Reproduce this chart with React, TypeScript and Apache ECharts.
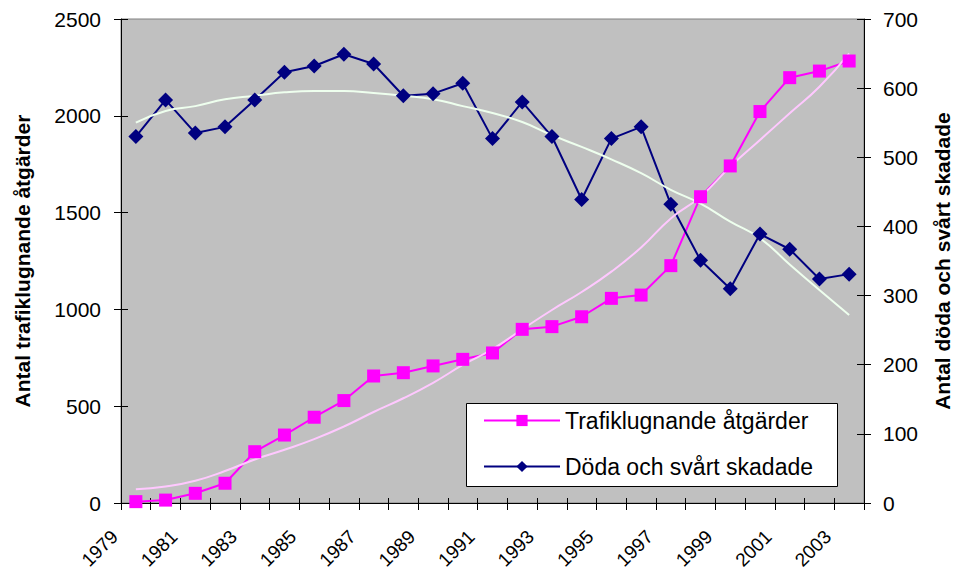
import React, { useEffect, useRef } from "react";
import * as echarts from "echarts";

// Categories (one per data point)
const years = [
  "1979", "1980", "1981", "1982", "1983", "1984", "1985", "1986", "1987", "1988",
  "1989", "1990", "1991", "1992", "1993", "1994", "1995", "1996", "1997", "1998",
  "1999", "2000", "2001", "2002", "2003",
];
// Tick labels placed on the tick marks (every other one shown)
const tickLabels = [
  "1979", "1980", "1981", "1982", "1983", "1984", "1985", "1986", "1987", "1988",
  "1989", "1990", "1991", "1992", "1993", "1994", "1995", "1996", "1997", "1998",
  "1999", "2000", "2001", "2002", "2003", "2004",
];

const atgarder = [
  7, 15, 50, 102, 265, 351, 443, 529, 656, 673, 708, 742, 775,
  897, 911, 962, 1057, 1074, 1226, 1582, 1741, 2022, 2197, 2231, 2283,
];
const doda = [
  530, 583, 535, 544, 583, 623, 632, 649, 635, 589, 592, 607, 527,
  580, 530, 439, 527, 544, 432, 351, 310, 389, 367, 324, 331,
];
const atgarderTrend = [
  71, 85, 115, 165, 225, 275, 330, 395, 470, 541, 621, 713, 795,
  897, 997, 1090, 1195, 1320, 1470, 1582, 1737, 1875, 2013, 2150, 2323,
];
const dodaTrend = [
  550, 567, 574, 584, 589, 594, 596, 596, 593, 589, 584, 574, 564,
  551, 532, 515, 497, 477, 453, 433, 407, 383, 345, 308, 272,
];

const FONT = 'Arial, "Liberation Sans", sans-serif';

export default function App() {
  const ref = useRef<HTMLDivElement>(null);
  useEffect(() => {
    if (!ref.current) return;
    const chart = echarts.init(ref.current, undefined, { renderer: "svg" });
    const axisLineStyle = { color: "#000", width: 1 };
    const plain = (v: number) => String(v);
    chart.setOption({
      animation: false,
      backgroundColor: "#fff",
      textStyle: { fontFamily: FONT },
      grid: {
        left: 121,
        right: 92,
        top: 19,
        bottom: 67,
        show: true,
        backgroundColor: "#C0C0C0",
        borderColor: "#808080",
        borderWidth: 1,
        containLabel: false,
        outerBoundsMode: "none",
      },
      xAxis: [
        {
          type: "category",
          data: years,
          boundaryGap: true,
          position: "bottom",
          axisLine: { show: true, lineStyle: axisLineStyle },
          axisTick: { show: true, interval: 0, length: 7, inside: false, lineStyle: axisLineStyle },
          axisLabel: { show: false },
          splitLine: { show: false },
        },
        {
          type: "category",
          data: tickLabels,
          boundaryGap: false,
          position: "bottom",
          axisLine: { show: false },
          axisTick: { show: true, interval: 0, length: 5, inside: true, lineStyle: axisLineStyle },
          axisLabel: {
            show: true,
            interval: 1,
            rotate: 45,
            margin: 24,
            fontSize: 19,
            color: "#000",
            fontFamily: FONT,
            padding: [0, 9, 0, 0],
          },
          splitLine: { show: false },
        },
      ],
      yAxis: [
        {
          type: "value",
          min: 0,
          max: 2500,
          interval: 500,
          position: "left",
          name: "Antal trafiklugnande åtgärder",
          nameLocation: "middle",
          nameGap: 88,
          nameTextStyle: { fontSize: 21, fontWeight: "bold", color: "#000", fontFamily: FONT },
          axisLine: { show: true, lineStyle: axisLineStyle },
          axisTick: { show: true, length: 7, lineStyle: axisLineStyle },
          axisLabel: { fontSize: 21, color: "#000", margin: 20, fontFamily: FONT, formatter: plain },
          splitLine: { show: false },
        },
        {
          type: "value",
          min: 0,
          max: 700,
          interval: 100,
          position: "right",
          name: "Antal döda och svårt skadade",
          nameLocation: "middle",
          nameGap: 68,
          nameTextStyle: { fontSize: 21, fontWeight: "bold", color: "#000", fontFamily: FONT },
          axisLine: { show: true, lineStyle: axisLineStyle },
          axisTick: { show: true, length: 7, lineStyle: axisLineStyle },
          axisLabel: { fontSize: 21, color: "#000", margin: 19, fontFamily: FONT, formatter: plain },
          splitLine: { show: false },
        },
        {
          type: "value",
          min: 0,
          max: 2500,
          interval: 500,
          position: "left",
          axisLine: { show: false },
          axisTick: { show: true, inside: true, length: 7, lineStyle: axisLineStyle },
          axisLabel: { show: false },
          splitLine: { show: false },
        },
        {
          type: "value",
          min: 0,
          max: 700,
          interval: 100,
          position: "right",
          axisLine: { show: false },
          axisTick: { show: true, inside: true, length: 7, lineStyle: axisLineStyle },
          axisLabel: { show: false },
          splitLine: { show: false },
        },
      ],
      legend: {
        data: ["Trafiklugnande åtgärder", "Döda och svårt skadade"],
        orient: "vertical",
        left: 483,
        top: 409,
        padding: 0,
        itemGap: 23,
        itemWidth: 76,
        itemHeight: 14,
        z: 10,
        textStyle: { fontSize: 23, color: "#000", fontFamily: FONT },
      },
      graphic: [
        {
          type: "rect",
          z: 5,
          shape: { x: 466.5, y: 403.5, width: 371, height: 83 },
          style: { fill: "#fff", stroke: "#000", lineWidth: 1 },
        },
      ],
      series: [
        {
          name: "Trafiklugnande åtgärder",
          type: "line",
          xAxisIndex: 0,
          yAxisIndex: 0,
          data: atgarder,
          symbol: "rect",
          symbolSize: 13,
          itemStyle: { color: "#FF00FF" },
          lineStyle: { color: "#FF00FF", width: 2 },
        },
        {
          name: "Döda och svårt skadade",
          type: "line",
          xAxisIndex: 0,
          yAxisIndex: 1,
          data: doda,
          symbol: "diamond",
          symbolSize: 15,
          itemStyle: { color: "#000080" },
          lineStyle: { color: "#000080", width: 2 },
        },
        {
          name: "Trend åtgärder",
          type: "line",
          xAxisIndex: 0,
          yAxisIndex: 0,
          data: atgarderTrend,
          smooth: true,
          symbol: "none",
          lineStyle: { color: "#FFC8FF", width: 2 },
          itemStyle: { color: "#FFC8FF" },
        },
        {
          name: "Trend döda",
          type: "line",
          xAxisIndex: 0,
          yAxisIndex: 1,
          data: dodaTrend,
          smooth: true,
          symbol: "none",
          lineStyle: { color: "#EEFFEE", width: 2 },
          itemStyle: { color: "#EEFFEE" },
        },
      ],
    });
    return () => chart.dispose();
  }, []);
  return (
    <div
      ref={ref}
      style={{ position: "absolute", left: 0, top: 0, width: 956, height: 570 }}
    />
  );
}
